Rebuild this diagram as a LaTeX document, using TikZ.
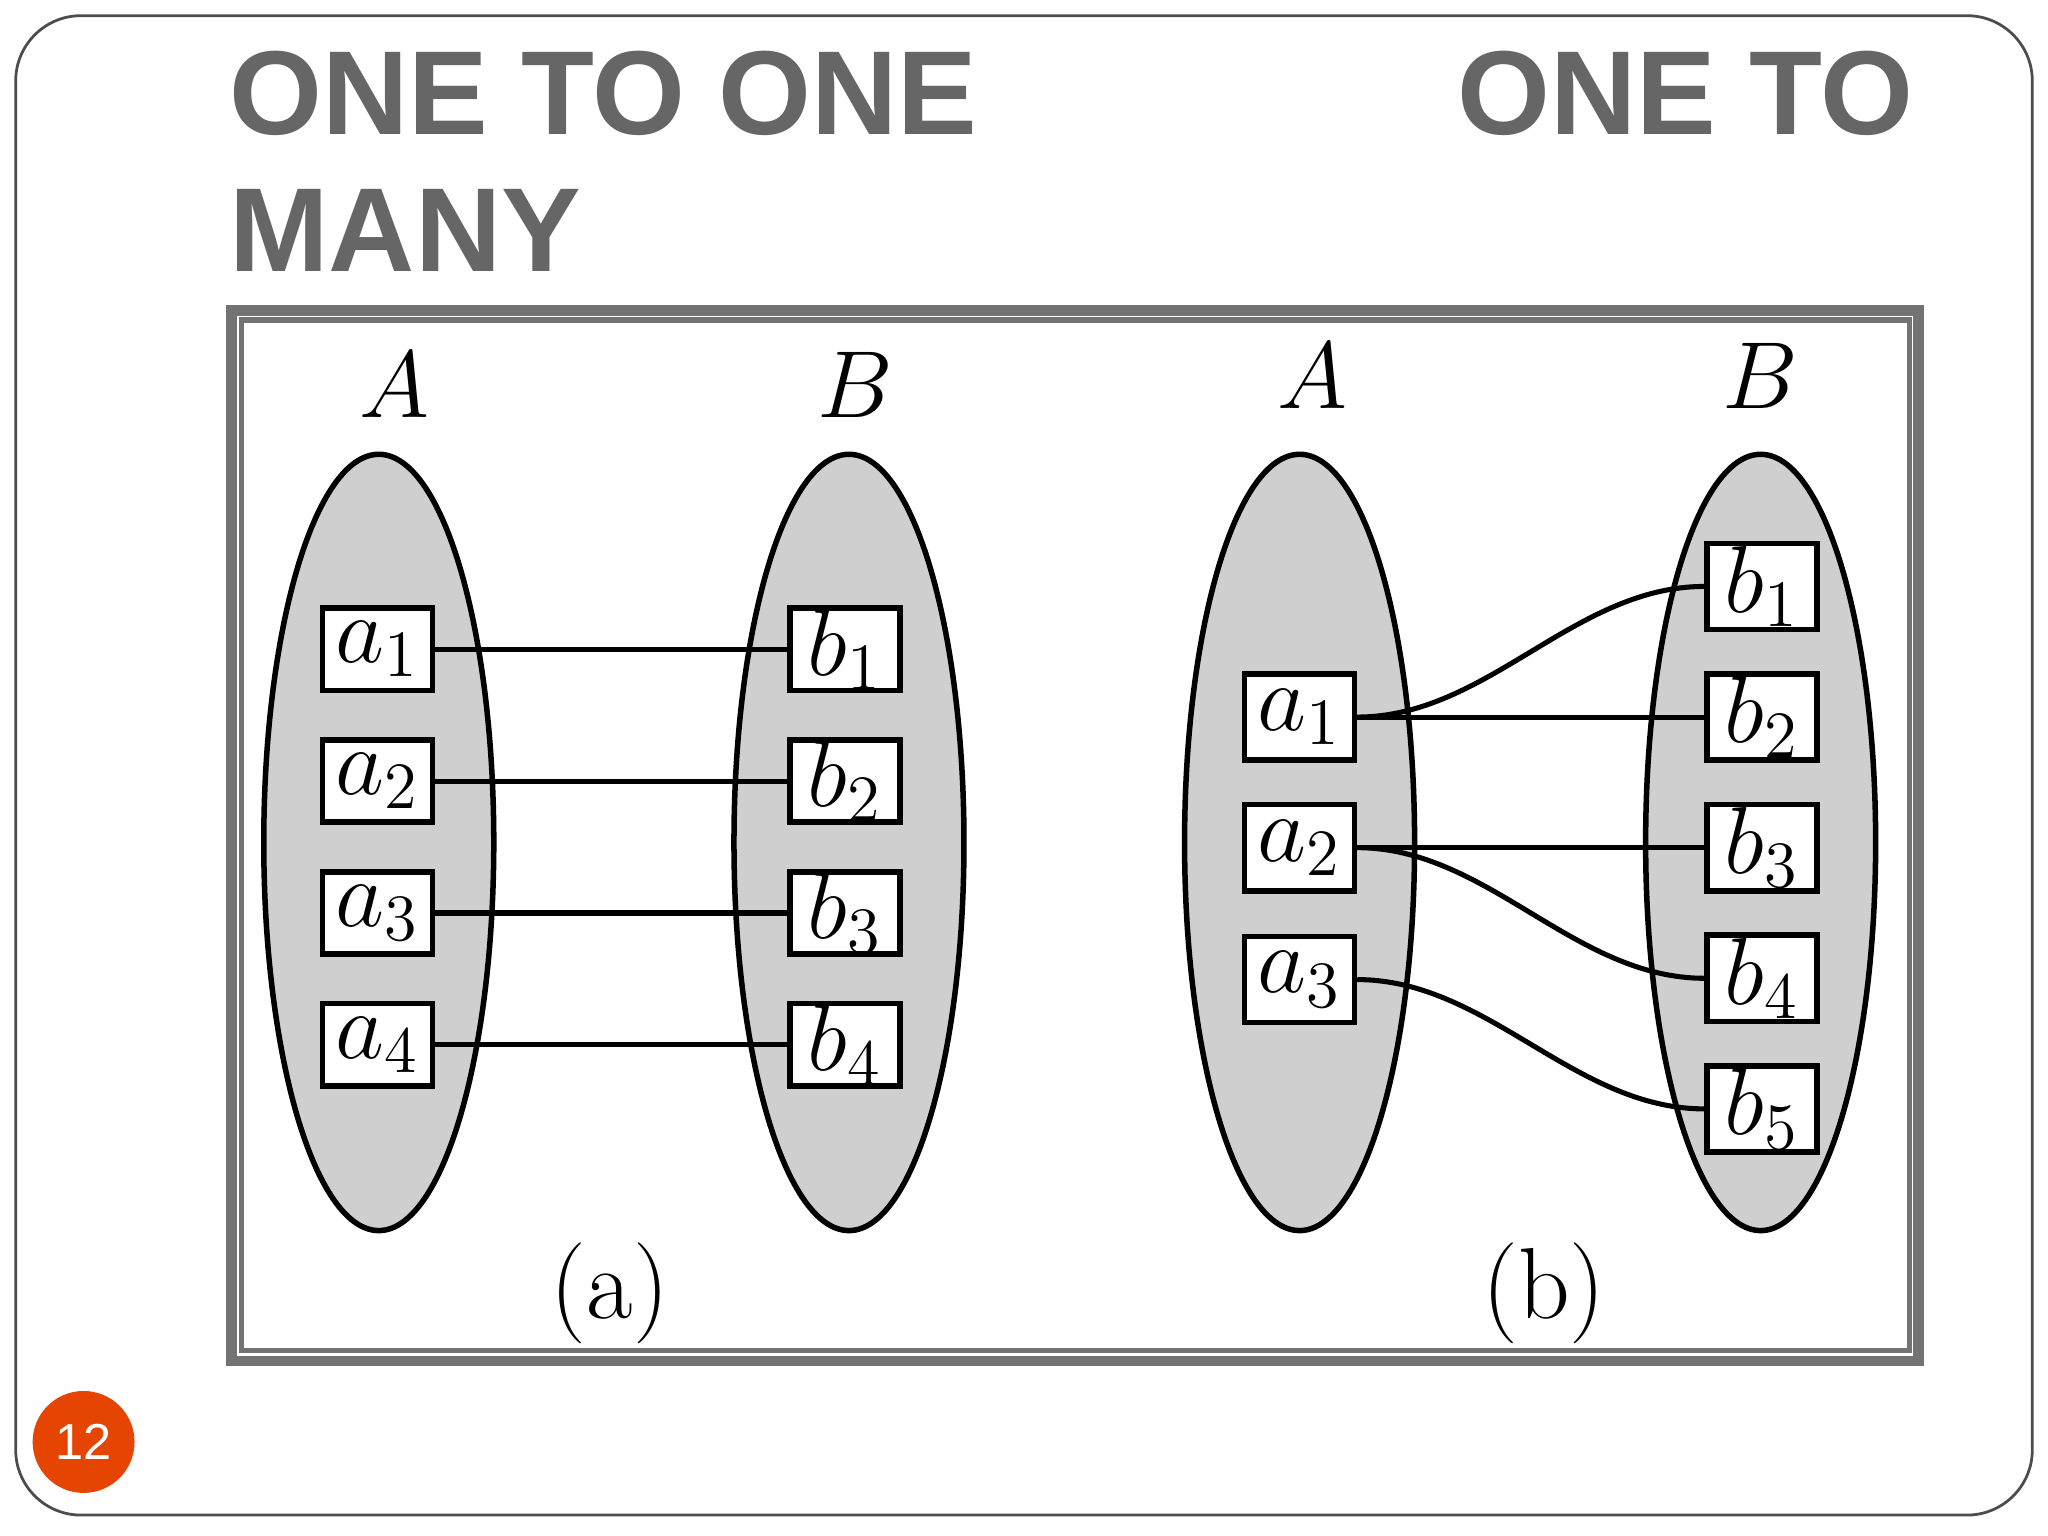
\documentclass[tikz,border=0pt]{standalone}
\usepackage{fontspec}
\usetikzlibrary{shapes.geometric}
\newfontfamily\titlefont{Liberation Sans}
\begin{document}
\begin{tikzpicture}[x=0.01cm,y=-0.01cm,
  ell/.style={draw,line width=1.2pt,fill=black!19},
  bx/.style={draw,line width=1.2pt,fill=white,minimum width=0.84cm,minimum height=0.63cm,inner sep=0pt,font=\fontsize{20}{24}\selectfont},
  lbl/.style={font=\fontsize{22}{26}\selectfont},
  ttl/.style={font=\titlefont\bfseries\fontsize{26}{30}\selectfont,text=black!60,anchor=base west,inner sep=0pt},
  cn/.style={line width=1.1pt}]
\useasboundingbox (0,0) rectangle (1568,1176);
\draw[black!70,line width=0.6pt,rounded corners=0.5cm] (12,12) rectangle (1556,1160);
\node[ttl] (t1) at (175,103) {ONE TO ONE};
\node[ttl] (t2) at (1115,103) {ONE TO};
\node[ttl] (t3) at (175,208) {MANY};
\draw[black!55,line width=1.2pt] (175,236) rectangle (1471,1044);
\draw[black!55,line width=1.2pt] (179,240) rectangle (1467,1040);
\draw[black!55,line width=1.2pt] (185,245) rectangle (1462,1034);
% panel a
\node[ell,ellipse,minimum width=1.76cm,minimum height=5.94cm] (EA) at (290,645) {};
\node[ell,ellipse,minimum width=1.76cm,minimum height=5.94cm] (EB) at (650,645) {};
\node[lbl] (LA) at (302,295) {$A$};
\node[lbl] (LB) at (655,295) {$B$};
\foreach \i/\y in {1/497,2/598,3/699,4/800}{
  \node[bx] (a\i) at (289,\y) {$a_{\i}$};
  \node[bx] (b\i) at (647,\y) {$b_{\i}$};
  \draw[cn] (a\i) -- (b\i);
}
\node[lbl] (ca) at (467,990) {(a)};
% panel b
\node[ell,ellipse,minimum width=1.76cm,minimum height=5.94cm] (FA) at (995,645) {};
\node[ell,ellipse,minimum width=1.76cm,minimum height=5.94cm] (FB) at (1348,645) {};
\node[lbl] (MA) at (1005,288) {$A$};
\node[lbl] (MB) at (1348,288) {$B$};
\foreach \i/\y in {1/549,2/649,3/750}{
  \node[bx,minimum height=0.66cm] (p\i) at (995,\y) {$a_{\i}$};
}
\foreach \i/\y in {1/449,2/549,3/649,4/749,5/849}{
  \node[bx,minimum height=0.66cm] (q\i) at (1349,\y) {$b_{\i}$};
}
\draw[cn] (p1.east) to[out=0,in=180,looseness=0.9] (q1.west);
\draw[cn] (p1.east) -- (q2.west);
\draw[cn] (p2.east) -- (q3.west);
\draw[cn] (p2.east) to[out=0,in=180,looseness=0.9] (q4.west);
\draw[cn] (p3.east) to[out=0,in=180,looseness=0.9] (q5.west);
\node[lbl] (cb) at (1182,990) {(b)};
% page number
\node[circle,fill=orange!60!red!90!black,minimum size=0.78cm,inner sep=0pt,text=white,font=\titlefont\fontsize{11}{13}\selectfont] (pg) at (64,1104) {12};
\end{tikzpicture}
\end{document}
